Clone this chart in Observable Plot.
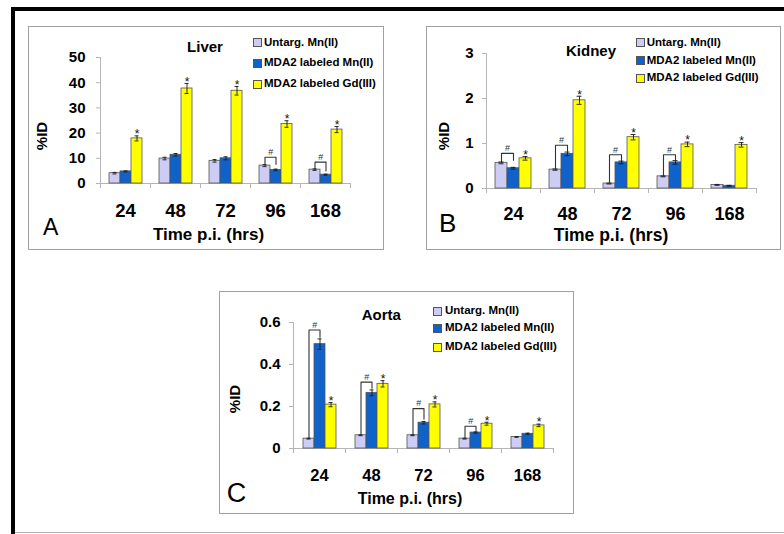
<!DOCTYPE html>
<html><head><meta charset="utf-8">
<script src="https://cdn.jsdelivr.net/npm/d3@7"></script>
<script src="https://cdn.jsdelivr.net/npm/@observablehq/plot@0.6"></script>
<style>
body{margin:0;background:#fff;font-family:"Liberation Sans",Arial,sans-serif;}
#root{position:relative;width:784px;height:534px;overflow:hidden;background:#fff}
.outer{position:absolute;left:11px;top:7px;width:773px;height:527px;border-top:4px solid #000;border-left:4px solid #000;box-sizing:border-box}
.bottomline{position:absolute;left:15px;top:532px;width:769px;height:1px;background:#b0b0b0}
.panel{position:absolute}
.frame{position:absolute;left:0;top:0;box-sizing:border-box;border:1px solid #a0a0a0;background:#fff}
.panel svg{position:absolute;left:0;top:0}
.t{position:absolute;white-space:nowrap;line-height:1;transform:translate(-50%,-50%);font-weight:bold;color:#000}
.letter{position:absolute;white-space:nowrap;line-height:1;transform:translateY(-50%);font-weight:normal;color:#000}
.leg{position:absolute;font-weight:bold;font-size:11.5px;line-height:1;white-space:nowrap;transform:translateY(-50%);color:#000}
.sw{position:absolute;width:9px;height:9px;box-sizing:border-box;border:1px solid #555}
</style>
</head><body><div id="root"><div class="outer"></div><div class="bottomline"></div></div>
<script>
// ---------- data ----------
const times = ["24", "48", "72", "96", "168"];
const seriesNames = ["Untarg. Mn(II)", "MDA2 labeled Mn(II)", "MDA2 labeled Gd(III)"];
const seriesColors = ["#CCCCF5", "#0F62C9", "#FFFF00"];
const xTitle = "Time p.i. (hrs)";
const yTitle = "%ID";

// Liver
const liverUntarg = [4.1, 9.9, 9.0, 7.1, 5.5];
const liverMn = [4.8, 11.4, 10.0, 5.4, 3.5];
const liverGd = [17.9, 37.7, 36.8, 23.6, 21.4];
const liverUntargErr = [0.3, 0.5, 0.5, 0.4, 0.3];
const liverMnErr = [0.2, 0.5, 0.6, 0.3, 0.2];
const liverGdErr = [1.0, 2.0, 1.7, 1.3, 1.2];
const liverBracketTimes = ["96", "168"];
const liverBracketTop = [10.4, 8.5];
const liverBracketEnd = [7.6, 5.0];

// Kidney
const kidneyUntarg = [0.57, 0.42, 0.11, 0.27, 0.08];
const kidneyMn = [0.45, 0.77, 0.58, 0.58, 0.06];
const kidneyGd = [0.67, 1.96, 1.14, 0.98, 0.97];
const kidneyUntargErr = [0.02, 0.015, 0.01, 0.01, 0.01];
const kidneyMnErr = [0.02, 0.04, 0.03, 0.04, 0.01];
const kidneyGdErr = [0.04, 0.09, 0.06, 0.05, 0.05];
const kidneyBracketTimes = ["24", "48", "72", "96"];
const kidneyBracketTop = [0.78, 0.96, 0.75, 0.75];
const kidneyBracketEnd = [0.63, 0.82, 0.63, 0.63];

// Aorta
const aortaUntarg = [0.047, 0.063, 0.063, 0.047, 0.055];
const aortaMn = [0.497, 0.265, 0.123, 0.076, 0.070];
const aortaGd = [0.209, 0.308, 0.210, 0.118, 0.110];
const aortaUntargErr = [0.002, 0.002, 0.002, 0.002, 0.002];
const aortaMnErr = [0.025, 0.014, 0.006, 0.003, 0.003];
const aortaGdErr = [0.010, 0.015, 0.012, 0.007, 0.006];
const aortaBracketTimes = ["24", "48", "72", "96"];
const aortaBracketTop = [0.564, 0.316, 0.19, 0.106];
const aortaBracketEnd = [0.53, 0.287, 0.14, 0.085];

const liverTicks = [0, 10, 20, 30, 40, 50];
const kidneyTicks = [0, 1, 2, 3];
const aortaTicks = [0, 0.2, 0.4, 0.6];

// ---------- helpers ----------
const FONT = '"Liberation Sans", Arial, sans-serif';
const OUTER_PAD = 0.75;

function buildRows(vals, errs) {
  return times.flatMap((t, i) => seriesNames.map((s, j) => ({time: t, series: s, value: vals[j][i], err: errs[j][i]})));
}
function buildBrackets(bTimes, tops, ends, untarg, untargErr) {
  return bTimes.flatMap((t, k) => {
    const i = times.indexOf(t);
    return [
      {time: t, series: seriesNames[0], y: untarg[i] + untargErr[i]},
      {time: t, series: seriesNames[0], y: tops[k]},
      {time: t, series: seriesNames[1], y: tops[k]},
      {time: t, series: seriesNames[1], y: ends[k]}
    ];
  });
}

function makePanel(cfg) {
  const root = document.getElementById("root");
  const panel = document.createElement("div");
  panel.className = "panel";
  Object.assign(panel.style, {left: cfg.left + "px", top: cfg.top + "px", width: cfg.w + "px", height: cfg.h + "px"});
  const frame = document.createElement("div");
  frame.className = "frame";
  Object.assign(frame.style, {width: cfg.w + "px", height: cfg.h + "px"});
  panel.appendChild(frame);

  const rows = buildRows(cfg.vals, cfg.errs);
  const brackets = buildBrackets(cfg.bTimes, cfg.bTop, cfg.bEnd, cfg.vals[0], cfg.errs[0]);
  const bracketLabels = cfg.bTimes.map((t, k) => ({time: t, series: seriesNames[0], y: cfg.bTop[k]}));
  const gdRows = rows.filter(d => d.series === seriesNames[2]);
  const fxBand = (cfg.w - cfg.mL - cfg.mR) / times.length;
  const xStep = fxBand / (seriesNames.length + 2 * OUTER_PAD);

  const plot = Plot.plot({
    width: cfg.w, height: cfg.h,
    marginLeft: cfg.mL, marginRight: cfg.mR, marginTop: cfg.mT, marginBottom: cfg.mB,
    style: {fontFamily: FONT, fontWeight: "bold", background: "none", overflow: "visible", color: "#000"},
    fx: {domain: times, padding: 0, label: null},
    x: {domain: seriesNames, paddingInner: 0, paddingOuter: OUTER_PAD, axis: null},
    y: {domain: cfg.yDomain, label: null},
    color: {domain: seriesNames, range: seriesColors},
    marks: [
      Plot.ruleY([0], {stroke: "#b5b5b5"}),
      Plot.barY(rows, {fx: "time", x: "series", y: "value", fill: "series", stroke: "#555", strokeWidth: 0.8}),
      Plot.ruleX(rows, {fx: "time", x: "series", y1: d => d.value - d.err, y2: d => d.value + d.err, stroke: "#1a1a1a", strokeWidth: 0.9}),
      Plot.tickY(rows, {fx: "time", x: "series", y: d => d.value + d.err, insetLeft: 3.5, insetRight: 3.5, stroke: "#1a1a1a", strokeWidth: 0.9}),
      Plot.tickY(rows, {fx: "time", x: "series", y: d => d.value - d.err, insetLeft: 3.5, insetRight: 3.5, stroke: "#1a1a1a", strokeWidth: 0.9}),
      Plot.line(brackets, {fx: "time", x: "series", y: "y", z: "time", stroke: "#333", strokeWidth: 1.1}),
      Plot.text(bracketLabels, {fx: "time", x: "series", y: "y", text: () => "#", dx: xStep / 2, dy: -5, fontSize: 9, fontWeight: "normal", fill: "#333"}),
      Plot.text(gdRows, {fx: "time", x: "series", y: d => d.value + d.err, text: () => "*", dy: -1.5, fontSize: 12, fontWeight: "normal", fill: "#111"}),
      Plot.axisY({ticks: cfg.yTicks, tickFormat: d => String(d), tickSize: 4, tickPadding: cfg.yPad, stroke: "#b5b5b5", fill: "#000", fontSize: 15, fontWeight: "bold", label: null}),
      Plot.axisFx({anchor: "bottom", tickSize: 0, tickPadding: cfg.xPad, fontSize: cfg.xFont, fontWeight: "bold", fill: "#000", label: null})
    ]
  });
  panel.appendChild(plot);

  // Excel-style y axis line and category boundary ticks, from Plot's own scales
  const fx = plot.scale("fx"), y = plot.scale("y");
  const y0 = y.apply(0), yTop = y.apply(cfg.yDomain[1]);
  const edges = times.map(t => fx.apply(t)).concat([fx.apply(times[times.length - 1]) + fx.bandwidth]);
  const g = d3.select(plot).append("g").attr("stroke", "#b5b5b5").attr("stroke-width", 1);
  g.append("line").attr("x1", edges[0] + 0.5).attr("x2", edges[0] + 0.5).attr("y1", y0).attr("y2", yTop);
  g.selectAll("line.tk").data(edges).join("line").attr("class", "tk")
    .attr("x1", d => d + 0.5).attr("x2", d => d + 0.5).attr("y1", y0).attr("y2", y0 + 5);

  // texts
  const addText = (cls, txt, x, yv, size, extra) => {
    const s = document.createElement("div");
    s.className = cls; s.textContent = txt;
    Object.assign(s.style, {left: x + "px", top: yv + "px", fontSize: size + "px"}, extra || {});
    panel.appendChild(s);
  };
  addText("t", cfg.title, cfg.titleX, cfg.titleY, 15);
  addText("t", xTitle, cfg.xtX, cfg.xtY, cfg.xtFont);
  addText("t", yTitle, cfg.ytX, cfg.ytY, 15, {transform: "translate(-50%,-50%) rotate(-90deg)"});
  addText("letter", cfg.letter, cfg.letX, cfg.letY, cfg.letFont);
  seriesNames.forEach((s, j) => {
    const yv = cfg.legY[j];
    const sw = document.createElement("div");
    sw.className = "sw";
    Object.assign(sw.style, {left: cfg.legSwX + "px", top: (yv - 4.5) + "px", background: seriesColors[j]});
    panel.appendChild(sw);
    addText("leg", s, cfg.legTextX, yv, 11.5);
  });
  root.appendChild(panel);
}

makePanel({
  left: 28, top: 26, w: 356, h: 224, mL: 70, mR: 32, mT: 31, mB: 67,
  vals: [liverUntarg, liverMn, liverGd], errs: [liverUntargErr, liverMnErr, liverGdErr],
  bTimes: liverBracketTimes, bTop: liverBracketTop, bEnd: liverBracketEnd,
  yDomain: [0, 50], yTicks: liverTicks, yPad: 11, xPad: 20, xFont: 18.5,
  title: "Liver", titleX: 177, titleY: 19.5,
  xtX: 180.5, xtY: 208, xtFont: 17, ytX: 13, ytY: 110,
  letter: "A", letX: 15, letY: 200.5, letFont: 23,
  legSwX: 225, legTextX: 236, legY: [16.7, 37.3, 58.3]
});
makePanel({
  left: 426, top: 26, w: 355, h: 224, mL: 58, mR: 23, mT: 27, mB: 62,
  vals: [kidneyUntarg, kidneyMn, kidneyGd], errs: [kidneyUntargErr, kidneyMnErr, kidneyGdErr],
  bTimes: kidneyBracketTimes, bTop: kidneyBracketTop, bEnd: kidneyBracketEnd,
  yDomain: [0, 3], yTicks: kidneyTicks, yPad: 9, xPad: 19, xFont: 18,
  title: "Kidney", titleX: 165, titleY: 24.3,
  xtX: 185, xtY: 210.3, xtFont: 17.5, ytX: 16.5, ytY: 110,
  letter: "B", letX: 13, letY: 197, letFont: 26,
  legSwX: 210, legTextX: 220.7, legY: [16.7, 34.7, 52.3]
});
makePanel({
  left: 219, top: 291, w: 355, h: 223, mL: 72, mR: 19, mT: 31, mB: 66,
  vals: [aortaUntarg, aortaMn, aortaGd], errs: [aortaUntargErr, aortaMnErr, aortaGdErr],
  bTimes: aortaBracketTimes, bTop: aortaBracketTop, bEnd: aortaBracketEnd,
  yDomain: [0, 0.6], yTicks: aortaTicks, yPad: 9, xPad: 21, xFont: 16.5,
  title: "Aorta", titleX: 162.3, titleY: 23,
  xtX: 191, xtY: 208, xtFont: 16, ytX: 14.5, ytY: 108,
  letter: "C", letX: 7.7, letY: 202, letFont: 27,
  legSwX: 214.3, legTextX: 226, legY: [20, 37.3, 56.3]
});
</script></body></html>
